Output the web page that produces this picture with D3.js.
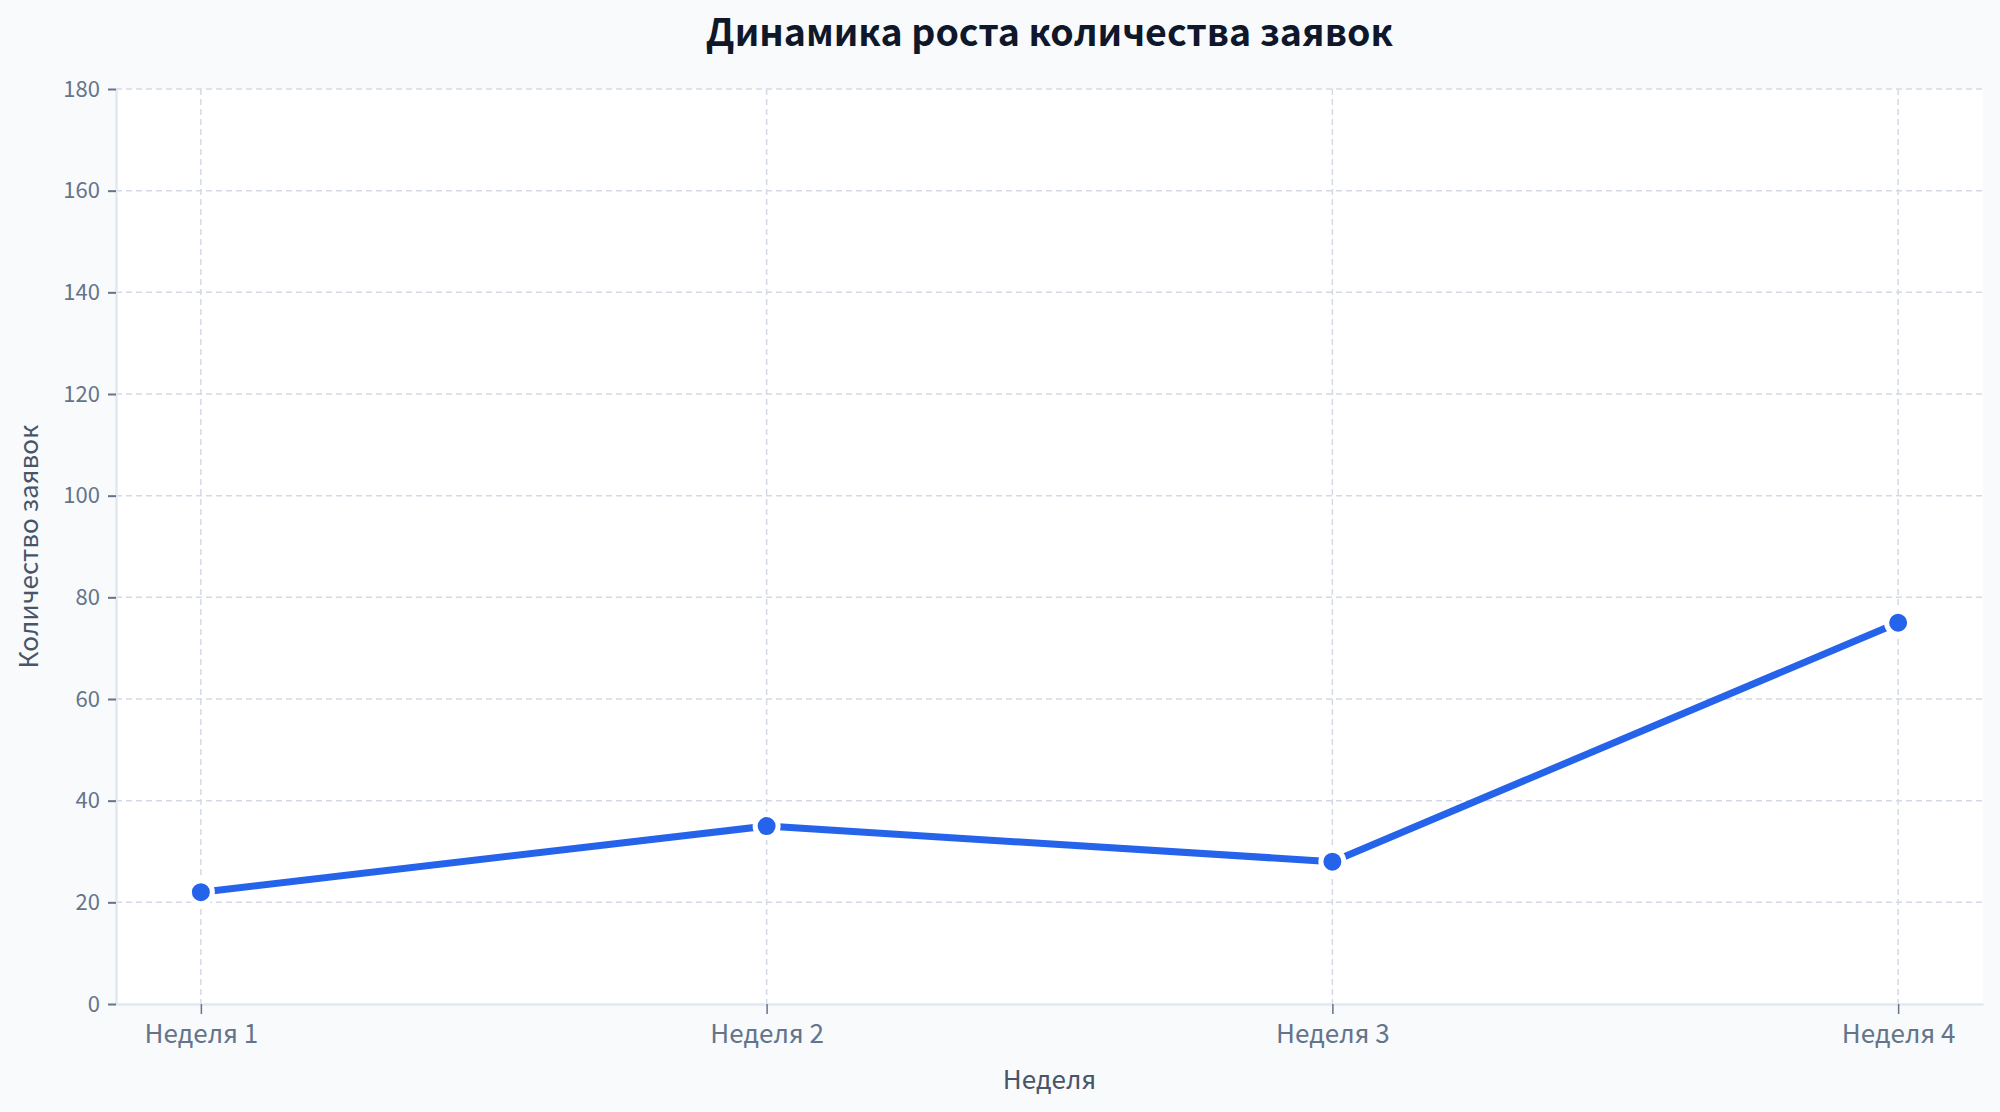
<!DOCTYPE html>
<html>
<head>
<meta charset="utf-8">
<script src="https://cdn.jsdelivr.net/npm/d3@7"></script>
<style>
  html, body { margin: 0; padding: 0; background: #f8fafc; }
  svg { display: block; font-family: "Noto Sans CJK SC", "Noto Sans", sans-serif; }
</style>
</head>
<body>
<script>
// Data
const weeks = ["Неделя 1", "Неделя 2", "Неделя 3", "Неделя 4"];
const requests = [22, 35, 28, 75];
const yTicks = [0, 20, 40, 60, 80, 100, 120, 140, 160, 180];

const data = weeks.map((w, i) => ({week: w, value: requests[i]}));

// Dimensions
const width = 2000;
const height = 1112;
const marginTop = 89;
const marginRight = 17;
const marginBottom = 108;
const marginLeft = 116;

const x = d3.scalePoint(weeks, [marginLeft, width - marginRight]).padding(0.15);
const y = d3.scaleLinear([0, 180], [height - marginBottom, marginTop]);

const svg = d3.select("body").append("svg")
    .attr("viewBox", [0, 0, width, height])
    .attr("width", width)
    .attr("height", height);

svg.append("rect")
    .attr("width", width)
    .attr("height", height)
    .attr("fill", "#f8fafc");

// Plot background
svg.append("rect")
    .attr("x", marginLeft)
    .attr("y", marginTop)
    .attr("width", width - marginRight - marginLeft)
    .attr("height", height - marginBottom - marginTop)
    .attr("fill", "#ffffff");

// Grid
svg.append("g")
    .attr("stroke", "#d3dae5")
    .attr("stroke-width", 1.5)
    .attr("stroke-dasharray", "6,4")
    .call(g => g.selectAll("line.h")
      .data(yTicks.filter(d => d > 0))
      .join("line")
        .attr("class", "h")
        .attr("x1", marginLeft)
        .attr("x2", width - marginRight)
        .attr("y1", d => y(d))
        .attr("y2", d => y(d)))
    .call(g => g.selectAll("line.v")
      .data(weeks)
      .join("line")
        .attr("class", "v")
        .attr("x1", d => x(d))
        .attr("x2", d => x(d))
        .attr("y1", marginTop)
        .attr("y2", height - marginBottom));

// X axis
svg.append("g")
    .attr("transform", `translate(0,${height - marginBottom})`)
    .call(d3.axisBottom(x).tickSize(10).tickPadding(11).tickSizeOuter(0))
    .call(g => g.select(".domain").attr("stroke", "#e2e8f0").attr("stroke-width", 2.5))
    .call(g => g.selectAll(".tick line").attr("stroke", "#64748b").attr("stroke-width", 1.5))
    .call(g => g.selectAll(".tick text")
        .attr("fill", "#64748b")
        .attr("font-size", 26)
        .attr("font-family", "Noto Sans CJK SC, Noto Sans, sans-serif"));

// Y axis
svg.append("g")
    .attr("transform", `translate(${marginLeft},0)`)
    .call(d3.axisLeft(y).tickValues(yTicks).tickSize(8).tickPadding(8).tickSizeOuter(0))
    .call(g => g.select(".domain").attr("stroke", "#e2e8f0").attr("stroke-width", 2.5))
    .call(g => g.selectAll(".tick line").attr("stroke", "#64748b").attr("stroke-width", 2))
    .call(g => g.selectAll(".tick text")
        .attr("fill", "#64748b")
        .attr("font-size", 22)
        .attr("font-family", "Noto Sans CJK SC, Noto Sans, sans-serif"));

// Line
const line = d3.line()
    .x(d => x(d.week))
    .y(d => y(d.value));

svg.append("path")
    .datum(data)
    .attr("fill", "none")
    .attr("stroke", "#2563eb")
    .attr("stroke-width", 7)
    .attr("stroke-linejoin", "round")
    .attr("d", line);

svg.append("g")
    .selectAll("circle")
    .data(data)
    .join("circle")
    .attr("cx", d => x(d.week))
    .attr("cy", d => y(d.value))
    .attr("r", 11.5)
    .attr("fill", "#2563eb")
    .attr("stroke", "#ffffff")
    .attr("stroke-width", 5);

// Title
svg.append("text")
    .attr("x", (marginLeft + width - marginRight) / 2)
    .attr("y", 46)
    .attr("text-anchor", "middle")
    .attr("font-size", 37.5)
    .attr("font-weight", "bold")
    .attr("fill", "#0f172a")
    .text("Динамика роста количества заявок");

// Axis labels
svg.append("text")
    .attr("x", (marginLeft + width - marginRight) / 2)
    .attr("y", 1089)
    .attr("text-anchor", "middle")
    .attr("font-size", 26)
    .attr("fill", "#475569")
    .text("Неделя");

svg.append("text")
    .attr("transform", `translate(38,${(marginTop + height - marginBottom) / 2}) rotate(-90)`)
    .attr("text-anchor", "middle")
    .attr("font-size", 26)
    .attr("fill", "#475569")
    .text("Количество заявок");
</script>
</body>
</html>
